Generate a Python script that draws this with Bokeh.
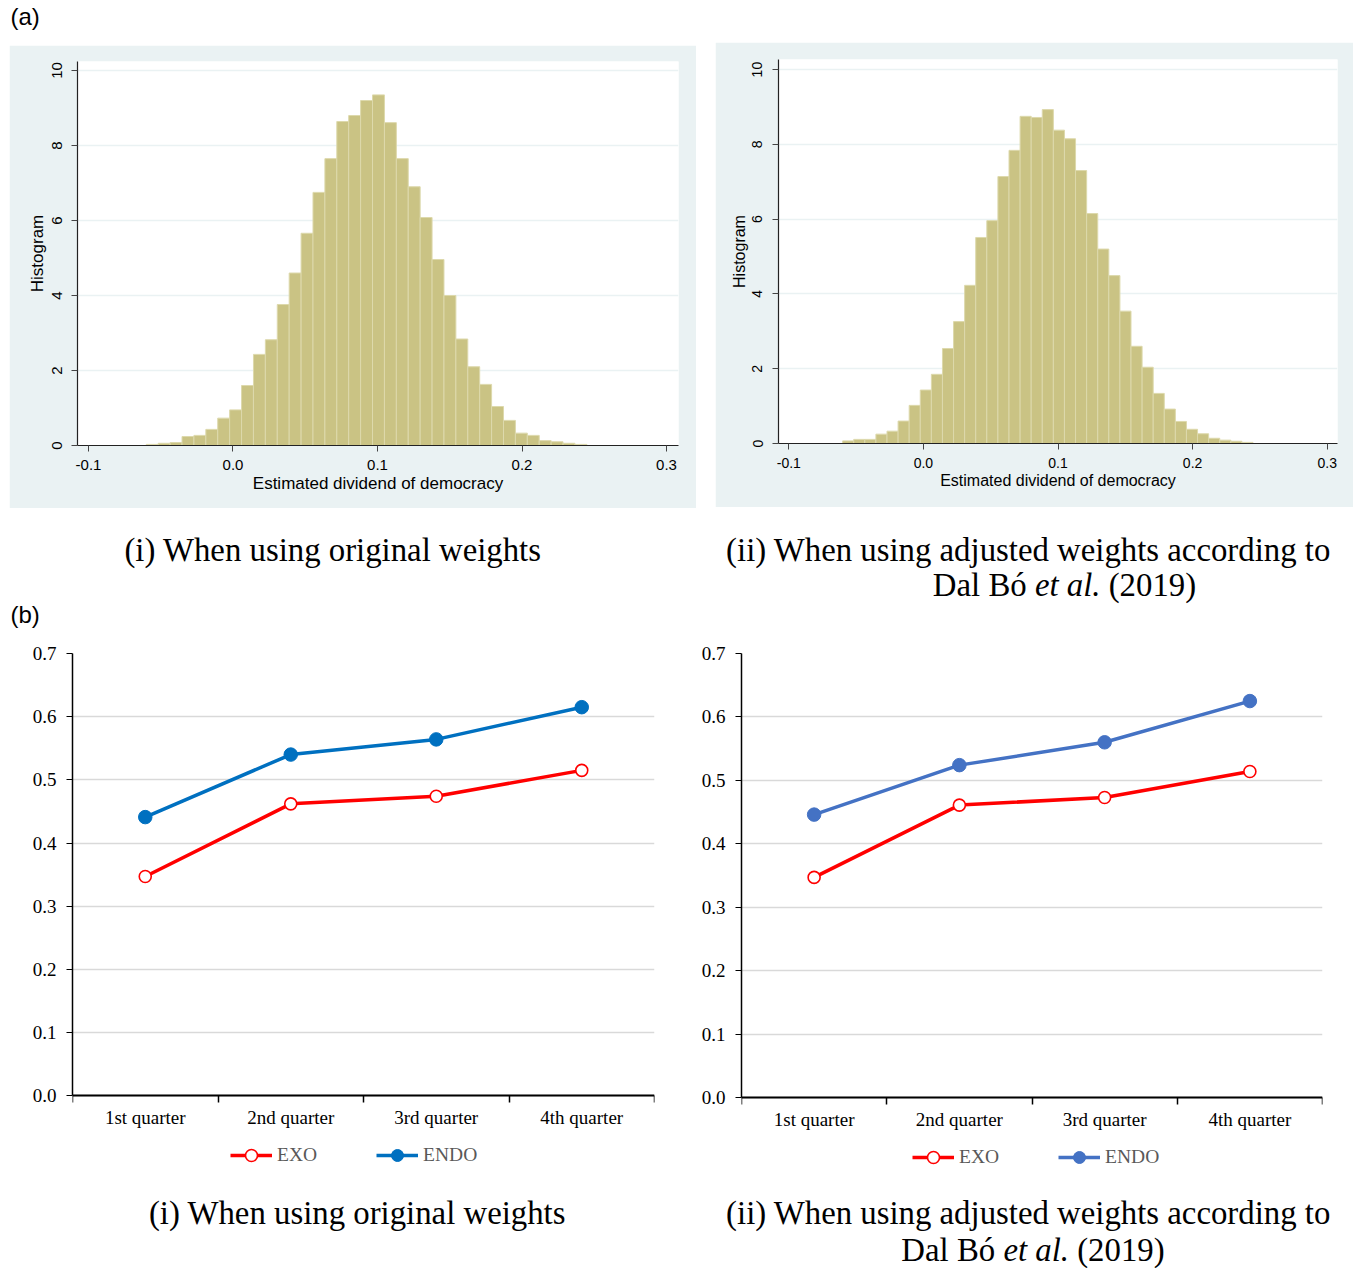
import math
from bokeh.plotting import figure
from bokeh.models import (Range1d, FixedTicker, PrintfTickFormatter, Legend,
                          LegendItem, Spacer)
from bokeh.layouts import column, row
from bokeh.core.properties import value
from bokeh.embed import file_html
from bokeh.resources import INLINE

# ---------------- data ----------------
BIN_START = -0.0600
BIN_WIDTH = 0.00824
HIST_ORIGINAL = [0.03, 0.06, 0.08, 0.24, 0.27, 0.43, 0.73, 0.95, 1.60, 2.43,
                 2.82, 3.76, 4.60, 5.66, 6.75, 7.65, 8.64, 8.80, 9.20, 9.35,
                 8.61, 7.65, 6.90, 6.08, 4.96, 4.00, 2.84, 2.10, 1.63, 1.04,
                 0.67, 0.33, 0.27, 0.13, 0.10, 0.06, 0.03]
HIST_ADJUSTED = [0.07, 0.11, 0.11, 0.25, 0.33, 0.60, 1.02, 1.43, 1.85, 2.54,
                 3.26, 4.23, 5.51, 5.96, 7.14, 7.84, 8.75, 8.72, 8.93, 8.38,
                 8.15, 7.30, 6.15, 5.20, 4.49, 3.54, 2.60, 2.04, 1.34, 0.92,
                 0.59, 0.38, 0.26, 0.14, 0.09, 0.06, 0.03]
HIST_XTICKS = [-0.1, 0.0, 0.1, 0.2, 0.3]
HIST_YTICKS = [0, 2, 4, 6, 8, 10]

QUARTERS = ["1st quarter", "2nd quarter", "3rd quarter", "4th quarter"]
EXO_ORIGINAL = [0.347, 0.462, 0.474, 0.515]
ENDO_ORIGINAL = [0.441, 0.540, 0.564, 0.615]
EXO_ADJUSTED = [0.347, 0.461, 0.473, 0.514]
ENDO_ADJUSTED = [0.446, 0.524, 0.560, 0.625]
LINE_YTICKS = [0.0, 0.1, 0.2, 0.3, 0.4, 0.5, 0.6, 0.7]
LINE_YMAX = 0.7

CAPTION_I = "(i) When using original weights"
CAPTION_II = "(ii) When using adjusted weights according to"
CAPTION_II_PARTS = ["Dal Bó", "et al.", "(2019)"]

SANS = "Liberation Sans"
SERIF = "Liberation Serif"
BG = "#EAF2F3"
BAR_FILL = "#CAC384"
BAR_LINE = "#DDD9AC"
RED = "#FF0000"
CAP_SIZE = 32.8
TEXT_SHIFT = -9   # text glyphs render slightly below the requested baseline


def make_hist(counts, width, height, mbl, mbr, mbt, mbb, x0, x1, y1,
              tick_size, label_size):
    p = figure(width=width, height=height, x_range=Range1d(x0, x1),
               y_range=Range1d(0, y1), toolbar_location=None,
               output_backend="svg", title=None,
               min_border_left=mbl, min_border_right=mbr,
               min_border_top=mbt, min_border_bottom=mbb)
    p.background_fill_color = "white"
    p.border_fill_color = BG
    p.outline_line_color = None
    centers = [BIN_START + BIN_WIDTH * (i + 0.5) for i in range(len(counts))]
    p.vbar(x=centers, top=counts, bottom=0, width=BIN_WIDTH,
           fill_color=BAR_FILL, line_color=BAR_LINE, line_width=1)
    p.xgrid.visible = False
    p.ygrid.ticker = FixedTicker(ticks=HIST_YTICKS)
    p.ygrid.grid_line_color = BG
    p.ygrid.grid_line_width = 1.5
    p.ygrid.level = "underlay"

    xa = p.xaxis[0]
    xa.ticker = FixedTicker(ticks=HIST_XTICKS, minor_ticks=[])
    xa.formatter = PrintfTickFormatter(format="%.1f")
    xa.axis_label = "Estimated dividend of democracy"
    ya = p.yaxis[0]
    ya.ticker = FixedTicker(ticks=HIST_YTICKS, minor_ticks=[])
    ya.axis_label = "Histogram"
    ya.major_label_orientation = "vertical"
    for ax in (xa, ya):
        ax.axis_line_color = "#222222"
        ax.axis_line_width = 1.2
        ax.major_tick_line_color = "#444444"
        ax.major_tick_out = 6
        ax.major_tick_in = 0
        ax.minor_tick_line_color = None
        ax.major_label_text_font = SANS
        ax.major_label_text_font_size = f"{tick_size}px"
        ax.major_label_text_color = "black"
        ax.axis_label_text_font = SANS
        ax.axis_label_text_font_size = f"{label_size}px"
        ax.axis_label_text_font_style = "normal"
        ax.axis_label_text_color = "black"
    xa.major_label_standoff = 8
    xa.axis_label_standoff = 1
    ya.major_label_standoff = 10
    ya.axis_label_standoff = 2
    return p


def make_line(exo, endo, endo_color, width, height, mbl, mbr, mbt,
              px_per_unit, legend_xy):
    n = len(QUARTERS)
    frame_h = height - mbt
    y_min = LINE_YMAX - frame_h / px_per_unit
    p = figure(width=width, height=height, x_range=Range1d(0, n),
               y_range=Range1d(y_min, LINE_YMAX), toolbar_location=None,
               output_backend="svg", title=None,
               min_border_left=mbl, min_border_right=mbr,
               min_border_top=mbt, min_border_bottom=0)
    p.outline_line_color = None
    p.background_fill_color = "white"
    p.border_fill_color = "white"
    xs = [i + 0.5 for i in range(n)]
    l1 = p.line(xs, exo, line_color=RED, line_width=3.5)
    s1 = p.scatter(xs, exo, marker="circle", size=12, fill_color="white",
                   line_color=RED, line_width=1.6)
    l2 = p.line(xs, endo, line_color=endo_color, line_width=3.5)
    s2 = p.scatter(xs, endo, marker="circle", size=13.5, fill_color=endo_color,
                   line_color=endo_color)
    p.xgrid.visible = False
    p.ygrid.ticker = FixedTicker(ticks=LINE_YTICKS)
    p.ygrid.grid_line_color = "#D9D9D9"
    p.ygrid.grid_line_width = 1.5

    xa = p.xaxis[0]
    xa.fixed_location = 0
    xa.ticker = FixedTicker(ticks=xs, minor_ticks=list(range(n + 1)))
    xa.major_label_overrides = {x: q for x, q in zip(xs, QUARTERS)}
    xa.major_tick_line_color = None
    xa.minor_tick_line_color = "black"
    xa.minor_tick_line_width = 1.5
    xa.minor_tick_out = 7
    xa.minor_tick_in = 0
    xa.axis_line_color = "black"
    xa.axis_line_width = 2
    xa.major_label_standoff = 4

    ya = p.yaxis[0]
    ya.bounds = (0, LINE_YMAX)
    ya.ticker = FixedTicker(ticks=LINE_YTICKS, minor_ticks=[])
    ya.formatter = PrintfTickFormatter(format="%.1f")
    ya.major_tick_out = 6
    ya.major_tick_in = 0
    ya.major_tick_line_color = "black"
    ya.minor_tick_line_color = None
    ya.axis_line_color = "black"
    ya.axis_line_width = 1.5
    ya.major_label_standoff = 10
    for ax in (xa, ya):
        ax.major_label_text_font = SERIF
        ax.major_label_text_font_size = "19px"
        ax.major_label_text_color = "black"

    legend = Legend(items=[LegendItem(label="EXO", renderers=[l1, s1]),
                           LegendItem(label="ENDO", renderers=[l2, s2])],
                    orientation="horizontal", location=legend_xy)
    legend.label_text_font = SERIF
    legend.label_text_font_size = "19.5px"
    legend.label_text_color = "#595959"
    legend.glyph_width = 42
    legend.glyph_height = 30
    legend.label_standoff = 5
    legend.spacing = 59
    legend.padding = 0
    legend.margin = 0
    legend.border_line_color = None
    legend.background_fill_alpha = 0
    p.add_layout(legend)
    return p


def make_text_fig(width, height):
    p = figure(width=width, height=height, x_range=Range1d(0, width),
               y_range=Range1d(height, 0), toolbar_location=None,
               output_backend="svg", title=None, x_axis_type=None,
               y_axis_type=None, min_border=0)
    p.outline_line_color = None
    p.background_fill_color = "white"
    p.border_fill_color = "white"
    return p


def put_text(p, x, y, txt, font, size, align="center", style="normal"):
    p.text(x=[x], y=[y + TEXT_SHIFT], text=[txt], text_font=value(font),
           text_font_size=f"{size}px", text_align=align,
           text_font_style=style, text_baseline="alphabetic",
           text_color="black")


def add_caption_ii(p, cx, y1, y2, cx2, size=CAP_SIZE):
    put_text(p, cx, y1, CAPTION_II, SERIF, size)
    # second line: "Dal Bó et al. (2019)" with the middle part in italics
    em = size / 1000.0
    w_a, w_sp, w_b, w_c = 2861 * em, 250 * em, 2000 * em, 2666 * em
    start = cx2 - (w_a + w_sp + w_b + w_sp + w_c) / 2
    put_text(p, start, y2, CAPTION_II_PARTS[0], SERIF, size, align="left")
    put_text(p, start + w_a + w_sp, y2, CAPTION_II_PARTS[1], SERIF, size,
             align="left", style="italic")
    put_text(p, start + w_a + w_sp + w_b + w_sp, y2, CAPTION_II_PARTS[2],
             SERIF, size, align="left")


# ---------------- header (a) ----------------
header_a = make_text_fig(1353, 42)
put_text(header_a, 10, 25, "(a)", SANS, 24, align="left")

# ---------------- histograms ----------------
hist1 = make_hist(HIST_ORIGINAL, 687, 463, 68, 18, 16, 63,
                  -0.10761, 0.30830, 10.24, 15, 17)
hist2 = make_hist(HIST_ADJUSTED, 638, 465, 63, 16, 17, 64,
                  -0.10765, 0.30765, 10.27, 14, 16)
hist_row = row(Spacer(width=9, height=466),
               column(Spacer(width=687, height=3), hist1),
               Spacer(width=19, height=466), hist2)

# ---------------- captions (a) + header (b) ----------------
cap_a = make_text_fig(1353, 132)
put_text(cap_a, 332.5, 50, CAPTION_I, SERIF, CAP_SIZE)
add_caption_ii(cap_a, 1028, 50, 85, 1064)
put_text(cap_a, 10, 115, "(b)", SANS, 24, align="left")

# ---------------- line charts ----------------
line1 = make_line(EXO_ORIGINAL, ENDO_ORIGINAL, "#0070C0", 680, 545, 72, 26, 12,
                  443 / 0.7, (158, 15))
line2 = make_line(EXO_ADJUSTED, ENDO_ADJUSTED, "#4472C4", 675, 545, 61, 33, 13,
                  444 / 0.7, (171, 13))
line_row = row(line1, line2)

# ---------------- captions (b) ----------------
cap_b = make_text_fig(1353, 83)
put_text(cap_b, 357, 36, CAPTION_I, SERIF, CAP_SIZE)
add_caption_ii(cap_b, 1028, 36, 73, 1032.5)

layout = column(header_a, hist_row, cap_a, line_row, cap_b)

open("out.html", "w").write(file_html(layout, INLINE))
